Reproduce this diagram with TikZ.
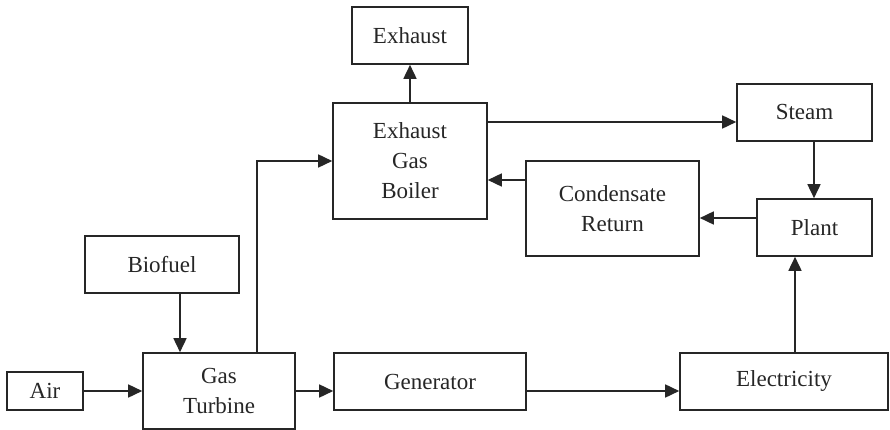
\documentclass[tikz,border=0pt]{standalone}
\usepackage{fontspec}
\setmainfont{Liberation Serif}
\usetikzlibrary{arrows.meta,calc}
\begin{document}
\begin{tikzpicture}[x=1pt,y=-1pt,
  blk/.style={draw=black!85, line width=1.6pt, inner sep=0pt, align=center,
    text=black!85, font=\fontsize{23}{30}\selectfont},
  arr/.style={draw=black!85, line width=1.6pt, -{Triangle[length=14pt,width=13pt]}}]
\useasboundingbox (0,0) rectangle (890,430);
\def\bx#1#2#3#4#5#6{\node[blk, minimum width={#4-#2}, minimum height={#5-#3}] (#1) at ({(#2+#4)/2},{(#3+#5)/2}) {#6};}
\bx{exh}{352}{7}{468}{64}{Exhaust}
\bx{egb}{333}{103}{487}{219}{Exhaust\\Gas\\Boiler}
\bx{steam}{737}{84}{872}{141}{Steam}
\bx{cond}{526}{161}{699}{256}{Condensate\\Return}
\bx{plant}{757}{199}{872}{256}{Plant}
\bx{bio}{85}{236}{239}{293}{Biofuel}
\bx{air}{7}{372}{83}{410}{Air}
\bx{gt}{143}{353}{295}{429}{Gas\\Turbine}
\bx{gen}{334}{353}{526}{410}{Generator}
\bx{elec}{680}{353}{888}{410}{Electricity}
\coordinate (xe) at (795,0);
\coordinate (xs) at (814,0);
\coordinate (xb) at (180,0);
\coordinate (xg) at (257,0);
\coordinate (yp) at (0,218);
\coordinate (yc) at (0,180);
\coordinate (ys) at (0,122);
\draw[arr] (air.east) -- (gt.west);
\draw[arr] (gt.east) -- (gt.east -| gen.west);
\draw[arr] (gen.east |- gt.east) -- (elec.west |- gt.east);
\draw[arr] (elec.north -| xe) -- (plant.south -| xe);
\draw[arr] (steam.south -| xs) -- (plant.north -| xs);
\draw[arr] (plant.west |- yp) -- (cond.east |- yp);
\draw[arr] (cond.west |- yc) -- (egb.east |- yc);
\draw[arr] (egb.east |- ys) -- (steam.west |- ys);
\draw[arr] (egb.north) -- (exh.south);
\draw[arr] (gt.north -| xg) |- (egb.west);
\draw[arr] (bio.south -| xb) -- (gt.north -| xb);
\end{tikzpicture}
\end{document}
